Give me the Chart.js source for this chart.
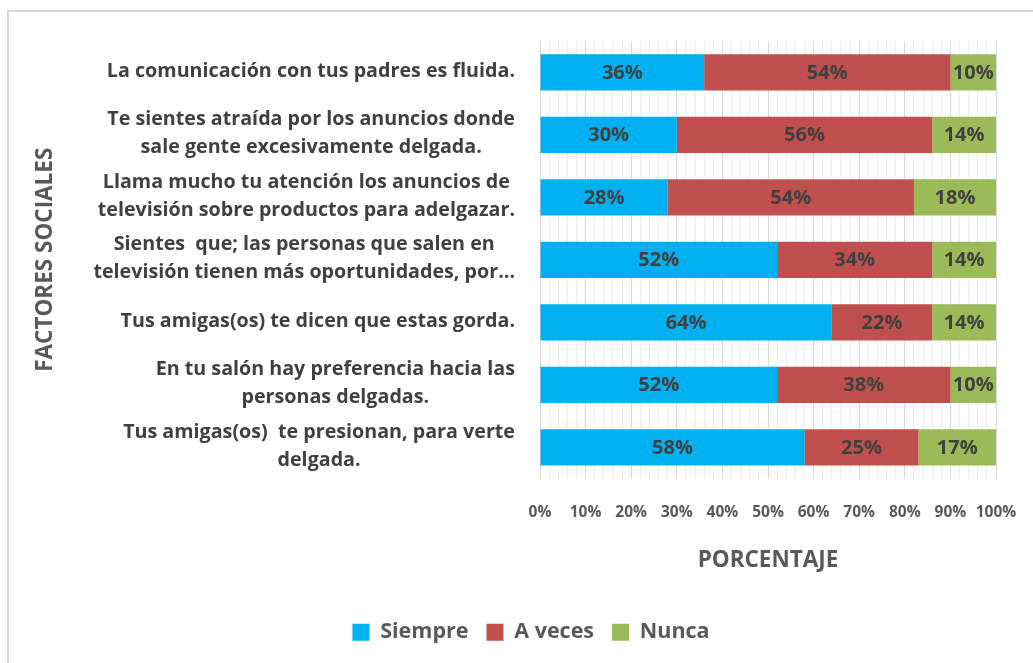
<!DOCTYPE html>
<html>
<head>
<meta charset="utf-8">
<script src="https://cdn.jsdelivr.net/npm/chart.js@4/dist/chart.umd.min.js"></script>
<style>
    body { margin: 0; background: #fff; }
    #wrap { position: relative; width: 1033px; height: 663px; }
    #frame { position: absolute; left: 7px; top: 10px; right: -5px; bottom: -5px;
             border-top: 2px solid #d9d9d9; border-left: 2px solid #d9d9d9; }
</style>
</head>
<body>
<div id="wrap">
    <div id="frame"></div>
    <canvas id="factoresChart"></canvas>
</div>
<script>
// categorias (cada una en sus lineas, como en la figura)
const factores = [
    ['La comunicación con tus padres es fluida.'],
    ['Te sientes atraída por los anuncios donde', 'sale gente excesivamente delgada.'],
    ['Llama mucho tu atención los anuncios de', 'televisión sobre productos para adelgazar.'],
    ['Sientes  que; las personas que salen en', 'televisión tienen más oportunidades, por…'],
    ['Tus amigas(os) te dicen que estas gorda.'],
    ['En tu salón hay preferencia hacia las', 'personas delgadas.'],
    ['Tus amigas(os)  te presionan, para verte', 'delgada.']
];

const siempre = [36, 30, 28, 52, 64, 52, 58];
const aVeces  = [54, 56, 54, 34, 22, 38, 25];
const nunca   = [10, 14, 18, 14, 14, 10, 17];

const xTicks = [0, 10, 20, 30, 40, 50, 60, 70, 80, 90, 100];

const FONT = '"Open Sans", sans-serif';

// etiquetas de porcentaje dentro de cada barra
const barLabels = {
    id: 'barLabels',
    afterDatasetsDraw(chart) {
        const ctx = chart.ctx;
        ctx.save();
        ctx.font = 'bold 20px ' + FONT;
        ctx.fillStyle = '#404040';
        ctx.textAlign = 'center';
        ctx.textBaseline = 'middle';
        chart.data.datasets.forEach((ds, di) => {
            chart.getDatasetMeta(di).data.forEach((bar, i) => {
                ctx.fillText(ds.data[i] + '%', (bar.x + bar.base) / 2, bar.y + 1);
            });
        });
        ctx.restore();
    }
};

// etiquetas del eje Y: bloque alineado a la derecha, lineas centradas entre si
const yLabels = {
    id: 'yLabels',
    afterDraw(chart) {
        const ctx = chart.ctx;
        const yScale = chart.scales.y;
        const rightEdge = chart.chartArea.left - 25;
        const lineH = 28;
        ctx.save();
        ctx.font = 'bold 19.7px ' + FONT;
        ctx.fillStyle = '#404040';
        ctx.textAlign = 'center';
        ctx.textBaseline = 'middle';
        factores.forEach((lines, i) => {
            const y = yScale.getPixelForTick(i);
            const blockW = Math.max(...lines.map(l => ctx.measureText(l).width));
            const cx = rightEdge - blockW / 2;
            const startY = y - 1 - (lines.length - 1) * lineH / 2;
            lines.forEach((l, k) => ctx.fillText(l, cx, startY + k * lineH));
        });
        ctx.restore();
    }
};

const ctx = document.getElementById('factoresChart').getContext('2d');
const factoresChart = new Chart(ctx, {
    type: 'bar',
    data: {
        labels: factores,
        datasets: [
            { label: 'Siempre', data: siempre, backgroundColor: '#00B0F0' },
            { label: 'A veces', data: aVeces, backgroundColor: '#C0504D' },
            { label: 'Nunca', data: nunca, backgroundColor: '#9BBB59' }
        ]
    },
    options: {
        indexAxis: 'y',
        responsive: true,
        maintainAspectRatio: false,
        animation: false,
        layout: { padding: { top: 41, left: 66, right: 37, bottom: 10 } },
        datasets: { bar: { barPercentage: 0.58, categoryPercentage: 1 } },
        scales: {
            x: {
                stacked: true,
                min: 0,
                max: 100,
                grid: {
                    drawTicks: false,
                    color: c => (c.tick && c.tick.value % 10 === 0) ? '#d9d9d9' : '#eeeeee'
                },
                border: { display: false },
                ticks: {
                    stepSize: 2,
                    autoSkip: false,
                    maxRotation: 0,
                    padding: 25,
                    color: '#595959',
                    font: { family: FONT, size: 15.5, weight: 'bold' },
                    callback: v => xTicks.includes(v) ? v + '%' : ''
                },
                title: {
                    display: true,
                    text: 'PORCENTAJE',
                    color: '#595959',
                    font: { family: FONT, size: 22.5, weight: 'bold' },
                    padding: { top: 0, bottom: 29 }
                },
                afterFit: scale => {
                    scale.height = 125;
                    scale.paddingLeft = 0;
                    scale.paddingRight = 0;
                }
            },
            y: {
                stacked: true,
                grid: { display: false },
                border: { display: false },
                ticks: { display: false },
                title: {
                    display: true,
                    text: 'FACTORES SOCIALES',
                    color: '#595959',
                    font: { family: FONT, size: 22.5, weight: 'bold' },
                    padding: { top: -34, bottom: 0 }
                },
                afterFit: scale => { scale.width = 474; }
            }
        },
        plugins: {
            legend: {
                position: 'bottom',
                labels: {
                    boxWidth: 17,
                    boxHeight: 17,
                    padding: 18,
                    color: '#595959',
                    font: { family: FONT, size: 21.5, weight: 'bold' }
                }
            },
            tooltip: { enabled: false }
        }
    },
    plugins: [barLabels, yLabels]
});
</script>
</body>
</html>
